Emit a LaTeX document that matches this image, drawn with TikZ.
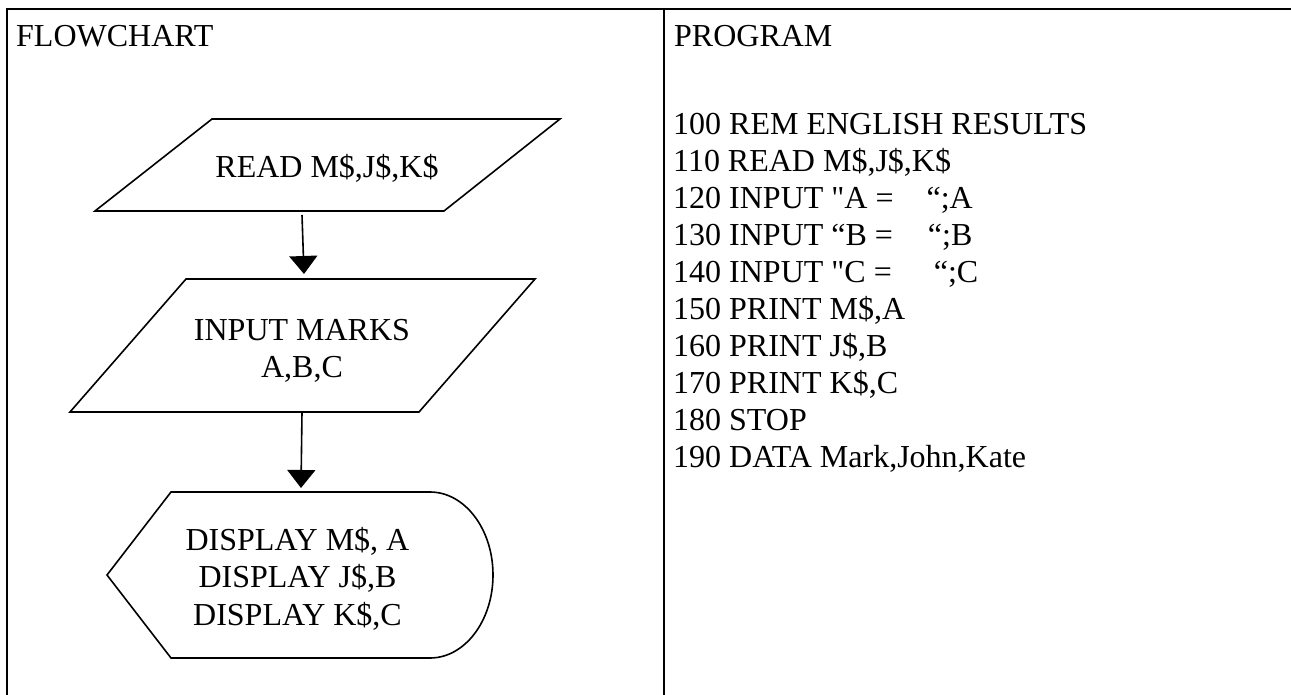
\documentclass[tikz,border=0pt]{standalone}
\usepackage{fontspec}
\setmainfont{Liberation Serif}[Ligatures=TeXOff]
\usetikzlibrary{arrows.meta}
\tikzset{
  frame/.style={line width=1.5pt},
  shapeline/.style={line width=1.6pt, line join=miter},
  txt/.style={inner sep=0pt, font=\fontsize{32}{37}\selectfont},
  flow/.style={line width=1.6pt, -{Triangle[width=28pt,length=18pt]}},
}
\begin{document}
\begin{tikzpicture}[x=1pt,y=-1pt]
\useasboundingbox (0,0) rectangle (1291,695);
% table frame
\draw[frame] (7,695) -- (7,9) -- (1291,9);
\draw[frame] (664,9) -- (664,695);
\node[txt,anchor=base west] (hflow) at (16,47) {FLOWCHART};
\node[txt,anchor=base west] (hprog) at (674,47) {PROGRAM};
% flowchart shapes
\draw[shapeline] (212,119) -- (560,119) -- (444,211) -- (95,211) -- cycle;
\node[txt,anchor=base] (read) at (327,178) {READ M\$,J\$,K\$};
\draw[shapeline] (186,279) -- (535,279) -- (419,412) -- (70,412) -- cycle;
\node[txt,anchor=base] (inp1) at (302,340) {INPUT MARKS};
\node[txt,anchor=base] (inp2) at (302,377) {A,B,C};
\draw[shapeline] (171,492) -- (430,492) arc[start angle=90,end angle=-90,x radius=63pt,y radius=83pt] -- (171,658) -- (107,575) -- cycle;
\node[txt,anchor=base] (disp1) at (297.5,550) {DISPLAY M\$, A};
\node[txt,anchor=base] (disp2) at (297.5,587) {DISPLAY J\$,B};
\node[txt,anchor=base] (disp3) at (297.5,625) {DISPLAY K\$,C};
% connectors
\coordinate (a1s) at (302,215);
\coordinate (a1e) at (304,274);
\coordinate (a2s) at (302,412);
\coordinate (a2e) at (301,488);
\draw[flow] (a1s) -- (a1e);
\draw[flow] (a2s) -- (a2e);
% program
\node[txt,anchor=base west] (p0) at (673,135.0) {100 REM ENGLISH RESULTS};
\node[txt,anchor=base west] (p1) at (673,171.9) {110 READ M\$,J\$,K\$};
\node[txt,anchor=base west] (p2) at (673,208.8) {120 INPUT "A =\hspace*{33pt}“;A};
\node[txt,anchor=base west] (p3) at (673,245.7) {130 INPUT “B =\hspace*{35pt}“;B};
\node[txt,anchor=base west] (p4) at (673,282.6) {140 INPUT "C =\hspace*{42pt}“;C};
\node[txt,anchor=base west] (p5) at (673,319.5) {150 PRINT M\$,A};
\node[txt,anchor=base west] (p6) at (673,356.4) {160 PRINT J\$,B};
\node[txt,anchor=base west] (p7) at (673,393.3) {170 PRINT K\$,C};
\node[txt,anchor=base west] (p8) at (673,430.2) {180 STOP};
\node[txt,anchor=base west] (p9) at (673,467.1) {190 DATA Mark,John,Kate};
\end{tikzpicture}
\end{document}
